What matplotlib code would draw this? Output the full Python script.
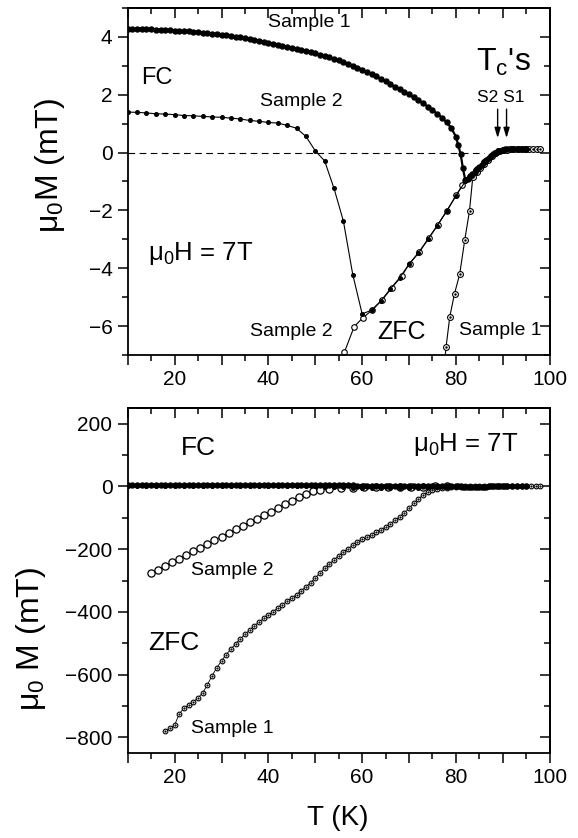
import matplotlib
matplotlib.use("Agg")
import matplotlib.pyplot as plt
from matplotlib.ticker import MultipleLocator, FuncFormatter

plt.rcParams['font.family'] = ['Liberation Sans', 'DejaVu Sans']
plt.rcParams['mathtext.fontset'] = 'custom'
plt.rcParams['mathtext.rm'] = 'Liberation Sans'
plt.rcParams['mathtext.it'] = 'Liberation Sans:italic'
plt.rcParams['mathtext.default'] = 'regular'

# ---- data (T in K, M in mT) ----
# field cooled, sample 1 (dense filled dots)
fc1_T = [10, 11, 12, 13, 14, 15, 16, 17, 18, 19,
         20, 21, 22, 23, 24, 25, 26, 27, 28, 29,
         30, 31, 32, 33, 34, 35, 36, 37, 38, 39,
         40, 41, 42, 43, 44, 45, 46, 47, 48, 49,
         50, 51, 52, 53, 54, 55, 56, 57, 58, 59,
         60, 61, 62, 63, 64, 65, 66, 67, 68, 69,
         70, 71, 72, 73, 74, 75, 76, 77, 78, 79, 80,
         80.5, 81, 81.5, 82, 82.5, 83, 83.5, 84, 84.5, 85, 85.5, 86, 86.5,
         87, 87.5, 88, 88.5, 89, 89.5, 90, 90.5, 91, 92, 93, 94, 95]
fc1_M = [4.27, 4.27, 4.27, 4.27, 4.26, 4.26, 4.25, 4.25, 4.24, 4.23,
         4.22, 4.21, 4.20, 4.19, 4.17, 4.16, 4.14, 4.12, 4.11, 4.09,
         4.08, 4.06, 4.04, 4.01, 3.99, 3.96, 3.93, 3.90, 3.87, 3.84,
         3.80, 3.77, 3.73, 3.70, 3.66, 3.63, 3.59, 3.56, 3.52, 3.48,
         3.44, 3.39, 3.34, 3.29, 3.24, 3.19, 3.13, 3.07, 3.01, 2.94,
         2.87, 2.79, 2.71, 2.63, 2.55, 2.46, 2.37, 2.28, 2.19, 2.10,
         2.01, 1.91, 1.81, 1.70, 1.59, 1.47, 1.34, 1.21, 1.05, 0.85, 0.55,
         0.25, -0.05, -0.55, -0.95, -0.90, -0.82, -0.75, -0.66, -0.58, -0.50, -0.42, -0.34, -0.26,
         -0.19, -0.12, -0.06, 0.00, 0.04, 0.07, 0.09, 0.11, 0.12, 0.12, 0.12, 0.12, 0.12]

# field cooled, sample 2 (small filled dots)
fc2_T = [10, 12, 14, 16, 18, 20, 22, 24, 26, 28, 30, 32, 34, 36, 38, 40,
         42, 44, 46, 48, 50, 52, 54, 56, 58, 60,
         62, 64, 66, 68, 70, 72, 74, 76, 78, 80, 82, 84, 86, 88, 90, 92, 94]
fc2_M = [1.40, 1.39, 1.37, 1.34, 1.33, 1.31, 1.28, 1.27, 1.25, 1.23, 1.22, 1.19, 1.16, 1.11, 1.08, 1.04,
         1.02, 0.94, 0.84, 0.56, 0.06, -0.29, -1.24, -2.37, -4.22, -5.58,
         -5.45, -5.13, -4.72, -4.33, -3.86, -3.47, -3.00, -2.53, -2.03, -1.49, -1.00, -0.62, -0.30, -0.04, 0.09, 0.12, 0.12]

# zero field cooled, near Tc (upper panel)
zfc1_top_T = [77.4, 77.9, 78.7, 79.7, 80.8, 81.9, 82.9, 83.6, 84.4, 85.2, 86.0, 86.8, 87.6,
              88.4, 89.2, 90.0, 90.8, 91.6, 92.4, 93.2, 94.0, 94.8, 95.6, 96.4, 97.2, 98.0]
zfc1_top_M = [-7.6, -6.72, -5.67, -4.88, -4.21, -3.01, -2.01, -0.85, -0.68, -0.53, -0.38, -0.25, -0.13,
              -0.03, 0.04, 0.08, 0.10, 0.11, 0.12, 0.12, 0.12, 0.12, 0.12, 0.12, 0.12, 0.12]
zfc2_top_T = [54.8, 56.2, 58.3, 60.1, 62.2, 64.3, 66.3, 68.4, 70.1, 72.2, 74.2, 76.1,
              78.1, 80.1, 81.4, 83.0, 84.5, 86.0, 87.5, 89.0, 90.5, 92.0, 93.5, 95.0]
zfc2_top_M = [-7.8, -6.91, -6.02, -5.72, -5.44, -5.09, -4.68, -4.28, -3.84, -3.44, -2.97, -2.51,
              -2.01, -1.47, -1.12, -0.85, -0.58, -0.33, -0.11, 0.04, 0.10, 0.12, 0.12, 0.12]

# zero field cooled, full range (lower panel)
zfc1_bot_T = [18, 19, 20, 21, 22, 23, 24, 25, 26, 27, 28, 29,
              30, 31, 32, 33, 34, 35, 36, 37, 38, 39,
              40, 41, 42, 43, 44, 45, 46, 47, 48, 49,
              50, 51, 52, 53, 54, 55, 56, 57, 58, 59,
              60, 61, 62, 63, 64, 65, 66, 67, 68, 69,
              70, 71, 72, 73, 74, 75, 76, 77, 78, 79,
              80, 81, 82, 83, 84, 85, 86, 87, 88, 89,
              90, 91, 92, 93, 94, 95, 96, 97, 98]
zfc1_bot_M = [-780, -771, -761, -724, -708, -696, -686, -674, -658, -632, -603, -578,
              -556, -536, -519, -502, -486, -472, -458, -445, -432, -421,
              -410, -399, -388, -377, -366, -356, -345, -333, -320, -307,
              -292, -276, -261, -247, -234, -221, -209, -198, -188, -178,
              -169, -161, -154, -146, -138, -129, -119, -108, -97, -84,
              -70, -54, -40, -27, -17, -12, -9, -6, -4, -3,
              -2, -1, 0, 0, 0, 0, 0, 0, 0, 0,
              0, 0, 0, 0, 0, 0, 0, 0, 0]
zfc2_bot_T = [15, 16.5, 18, 19.5, 21, 22.5, 24, 25.5, 27, 28.5, 30, 31.5,
              33, 34.5, 36, 37.5, 39, 40.5, 42, 43.5, 45, 46.5, 48, 49.5,
              51, 53, 55.5, 58, 60.5, 63, 65.5, 68, 70.5, 73, 75.5, 78]
zfc2_bot_M = [-276, -265, -253, -242, -230, -219, -207, -196, -184, -172, -160, -149,
              -137, -126, -114, -103, -91, -80, -68, -57, -45, -33, -23, -15,
              -10, -7, -5, -4, -3, -2, -2, -1, -1, -1, 0, 0]

tc_arrows = [88.9, 90.8]   # S2, S1
zero_line_end = 86


def style(ax, ymaj, ymin):
    ax.set_xlim(10, 100)
    ax.xaxis.set_major_locator(MultipleLocator(10))
    ax.xaxis.set_minor_locator(MultipleLocator(5))
    ax.xaxis.set_major_formatter(FuncFormatter(lambda v, p: f'{v:.0f}' if v % 20 == 0 else ''))
    ax.yaxis.set_major_locator(MultipleLocator(ymaj))
    ax.yaxis.set_minor_locator(MultipleLocator(ymin))
    ax.tick_params(which='both', direction='out', top=False, right=False,
                   labelsize=15, width=1.1, pad=4)
    ax.tick_params(which='major', length=7)
    ax.tick_params(which='minor', length=4)
    for s in ax.spines.values():
        s.set_linewidth(1.3)
    sx = ax.secondary_xaxis('top')
    sx.xaxis.set_major_locator(MultipleLocator(10))
    sx.xaxis.set_minor_locator(MultipleLocator(5))
    sx.tick_params(which='both', direction='in', labeltop=False, width=1.1)
    sx.tick_params(which='major', length=7)
    sx.tick_params(which='minor', length=4)
    sx.spines['top'].set_linewidth(1.3)
    sy = ax.secondary_yaxis('right')
    sy.yaxis.set_major_locator(MultipleLocator(ymaj))
    sy.yaxis.set_minor_locator(MultipleLocator(ymin))
    sy.tick_params(which='both', direction='in', labelright=False, width=1.1)
    sy.tick_params(which='major', length=7)
    sy.tick_params(which='minor', length=4)
    sy.spines['right'].set_linewidth(1.3)


fig = plt.figure(figsize=(5.78, 8.38), dpi=100)
ax1 = fig.add_axes([0.221, 0.5764, 0.730, 0.4141])
ax2 = fig.add_axes([0.221, 0.1014, 0.730, 0.4117])

# ---- upper panel ----
ax1.plot([10, zero_line_end], [0, 0], color='k', lw=0.8, ls=(0, (6, 4)), zorder=1)
ax1.plot(fc2_T, fc2_M, '-o', color='k', lw=0.8, ms=2.6, zorder=3)
ax1.plot(zfc2_top_T, zfc2_top_M, '-o', color='k', mfc='white', mec='k', mew=0.8, lw=0.8, ms=4, zorder=2)
ax1.plot(zfc1_top_T, zfc1_top_M, '-o', color='k', mfc='white', mec='k', mew=0.8, lw=0.8, ms=4.2, zorder=2)
ax1.plot(zfc1_top_T, zfc1_top_M, '.', color='k', ms=1.5, zorder=2)
ax1.plot(fc1_T, fc1_M, '-o', color='k', lw=1.6, ms=3.6, zorder=4)
for t in tc_arrows:
    ax1.annotate('', xy=(t, 0.5), xytext=(t, 1.5),
                 arrowprops=dict(arrowstyle='-|>,head_length=0.6,head_width=0.18',
                                 color='k', lw=1.0, shrinkA=0, shrinkB=0))
ax1.set_ylim(-7, 5)
style(ax1, 2, 1)
ax1.set_ylabel('μ$_0$M (mT)', fontsize=23)
ax1.yaxis.set_label_coords(-0.145, 0.545)

ax1.text(48.8, 4.5, 'Sample 1', fontsize=14, ha='center', va='center')
ax1.text(12.8, 2.58, 'FC', fontsize=17, ha='left', va='center')
ax1.text(47.1, 1.75, 'Sample 2', fontsize=14, ha='center', va='center')
ax1.text(84.2, 3.1, "T$_c$'s", fontsize=23, ha='left', va='center')
ax1.text(89.6, 1.92, 'S2 S1', fontsize=12.5, ha='center', va='center')
ax1.text(14.3, -3.5, 'μ$_0$H = 7T', fontsize=18.5, ha='left', va='center')
ax1.text(36.0, -6.2, 'Sample 2', fontsize=14, ha='left', va='center')
ax1.text(63.3, -6.2, 'ZFC', fontsize=18, ha='left', va='center')
ax1.text(80.6, -6.15, 'Sample 1', fontsize=14, ha='left', va='center')

# ---- lower panel ----
ax2.plot(zfc2_bot_T, zfc2_bot_M, '-o', color='k', mfc='white', mec='k', mew=0.9, lw=0.6, ms=5.2, zorder=2)
ax2.plot(zfc1_bot_T, zfc1_bot_M, '-o', color='k', mfc='white', mec='k', mew=0.8, lw=0.6, ms=3.4, zorder=2)
ax2.plot(zfc1_bot_T, zfc1_bot_M, '.', color='k', ms=1.2, zorder=2)
ax2.plot(fc2_T, fc2_M, '-o', color='k', lw=0.8, ms=2.6, zorder=3)
ax2.plot(fc1_T, fc1_M, '-o', color='k', lw=1.6, ms=3.6, zorder=4)
ax2.set_ylim(-850, 250)
style(ax2, 200, 100)
ax2.set_ylabel('μ$_0$ M (mT)', fontsize=23)
ax2.yaxis.set_label_coords(-0.19, 0.33)

ax2.text(21.4, 122, 'FC', fontsize=19, ha='left', va='center')
ax2.text(70.8, 135, 'μ$_0$H = 7T', fontsize=18.5, ha='left', va='center')
ax2.text(23.4, -268, 'Sample 2', fontsize=14, ha='left', va='center')
ax2.text(14.3, -499, 'ZFC', fontsize=19, ha='left', va='center')
ax2.text(23.4, -771, 'Sample 1', fontsize=14, ha='left', va='center')

fig.text(338 / 578, 1 - 818 / 838, 'T (K)', fontsize=20, ha='center', va='center')

fig.savefig('out.png', dpi=100)
